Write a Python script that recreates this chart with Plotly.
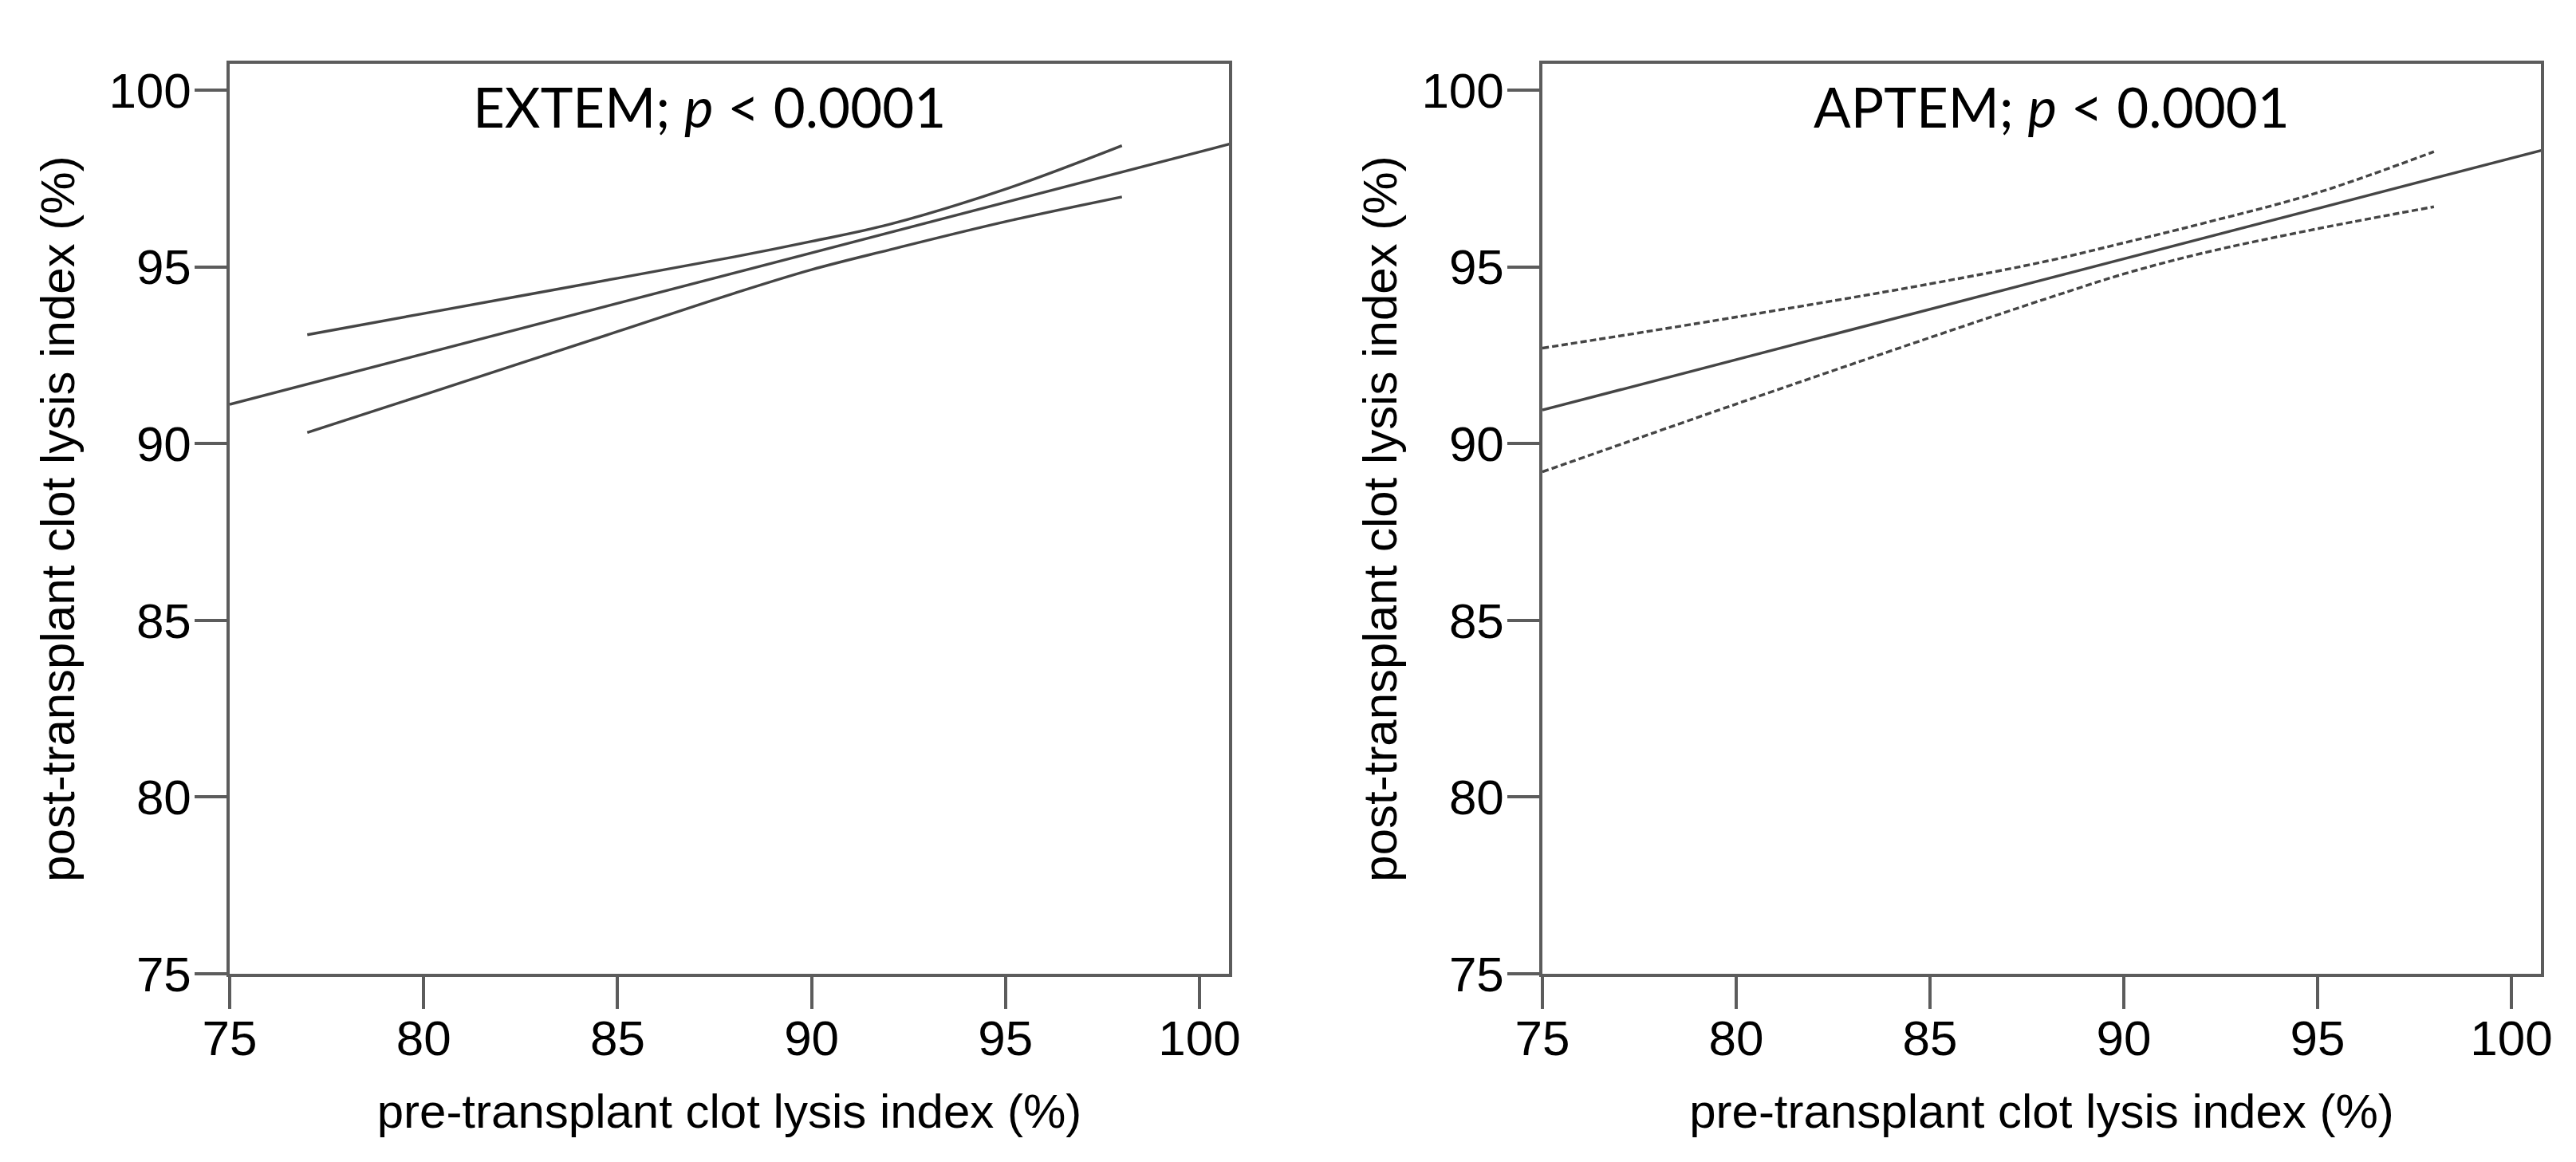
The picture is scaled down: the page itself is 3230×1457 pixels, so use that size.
import plotly.graph_objects as go

# ---- data ----
tick_vals = [75, 80, 85, 90, 95, 100]
tick_text = ["75", "80", "85", "90", "95", "100"]

extem_fit_x = [75, 101]
extem_fit_y = [91.11, 98.54]
extem_ci_x = [77, 80, 85, 88, 90, 92, 95, 98]
extem_upper = [93.08, 93.68, 94.68, 95.28, 95.72, 96.20, 97.20, 98.43]
extem_lower = [90.31, 91.38, 93.17, 94.25, 94.92, 95.48, 96.28, 96.98]

aptem_fit_x = [75, 101]
aptem_fit_y = [90.95, 98.36]
aptem_ci_x = [75, 80, 85, 88, 90, 92, 95, 98]
aptem_upper = [92.70, 93.58, 94.52, 95.16, 95.68, 96.22, 97.10, 98.26]
aptem_lower = [89.20, 91.12, 93.00, 94.10, 94.80, 95.38, 96.08, 96.70]

panel_titles = ["EXTEM; <i>p</i> &lt; 0.0001", "APTEM; <i>p</i> &lt; 0.0001"]
x_title = "pre-transplant clot lysis index (%)"
y_title = "post-transplant clot lysis index (%)"

LINE = "#454545"
AXIS = "#5c5c5c"

W, H = 3230, 1457
ML, MR, MT, MB = 280, 52, 72, 244
pw = W - ML - MR
ph = H - MT - MB

fig = go.Figure()

def add_line(x, y, xa, ya, dash="solid", shape="linear"):
    fig.add_trace(go.Scatter(x=x, y=y, mode="lines", xaxis=xa, yaxis=ya,
                             line=dict(color=LINE, width=3.4, dash=dash,
                                       shape=shape, smoothing=1.0),
                             showlegend=False, hoverinfo="skip"))

add_line(extem_fit_x, extem_fit_y, "x", "y")
add_line(extem_ci_x, extem_upper, "x", "y", shape="spline")
add_line(extem_ci_x, extem_lower, "x", "y", shape="spline")
add_line(aptem_fit_x, aptem_fit_y, "x2", "y2")
add_line(aptem_ci_x, aptem_upper, "x2", "y2", dash="8px,4px", shape="spline")
add_line(aptem_ci_x, aptem_lower, "x2", "y2", dash="8px,4px", shape="spline")

tickfont = dict(family="Liberation Sans, Arial", size=62, color="#000")
titlefont = dict(family="Liberation Sans, Arial", size=60, color="#000")

axis_common = dict(
    showline=True, mirror=True, linecolor=AXIS, linewidth=3.5,
    ticks="outside", ticklen=40, tickwidth=3.5, tickcolor=AXIS,
    showgrid=False, zeroline=False, tickfont=tickfont,
    tickvals=tick_vals, ticktext=tick_text,
)

d1 = [0, (1533 - ML) / pw]
d2 = [(1926 - ML) / pw, 1]

fig.update_layout(
    width=W, height=H,
    margin=dict(l=ML, r=MR, t=MT, b=MB, pad=0),
    paper_bgcolor="white", plot_bgcolor="white",
    xaxis=dict(domain=d1, range=[75, 100.76], anchor="y", ticklabelstandoff=-16,
               title=dict(text=x_title, font=titlefont, standoff=38), **axis_common),
    yaxis=dict(domain=[0, 1], range=[75, 100.745], anchor="x", ticklabelstandoff=-8,
               title=dict(text=y_title, font=titlefont, standoff=24), **axis_common),
    xaxis2=dict(domain=d2, range=[75, 100.76], anchor="y2", ticklabelstandoff=-16,
                title=dict(text=x_title, font=titlefont, standoff=38), **axis_common),
    yaxis2=dict(domain=[0, 1], range=[75, 100.745], anchor="x2", ticklabelstandoff=-8,
                title=dict(text=y_title, font=titlefont, standoff=12), **axis_common),
)

title_x = [d1[0] + 0.48 * (d1[1] - d1[0]), d2[0] + 0.51 * (d2[1] - d2[0])]
for t, tx in zip(panel_titles, title_x):
    fig.add_annotation(text=t, xref="paper", yref="paper",
                       x=tx, y=1 - 54 / ph,
                       xanchor="center", yanchor="middle", showarrow=False,
                       font=dict(family="Lato, Open Sans", size=69, color="#000"))

fig.write_html("out.html")
